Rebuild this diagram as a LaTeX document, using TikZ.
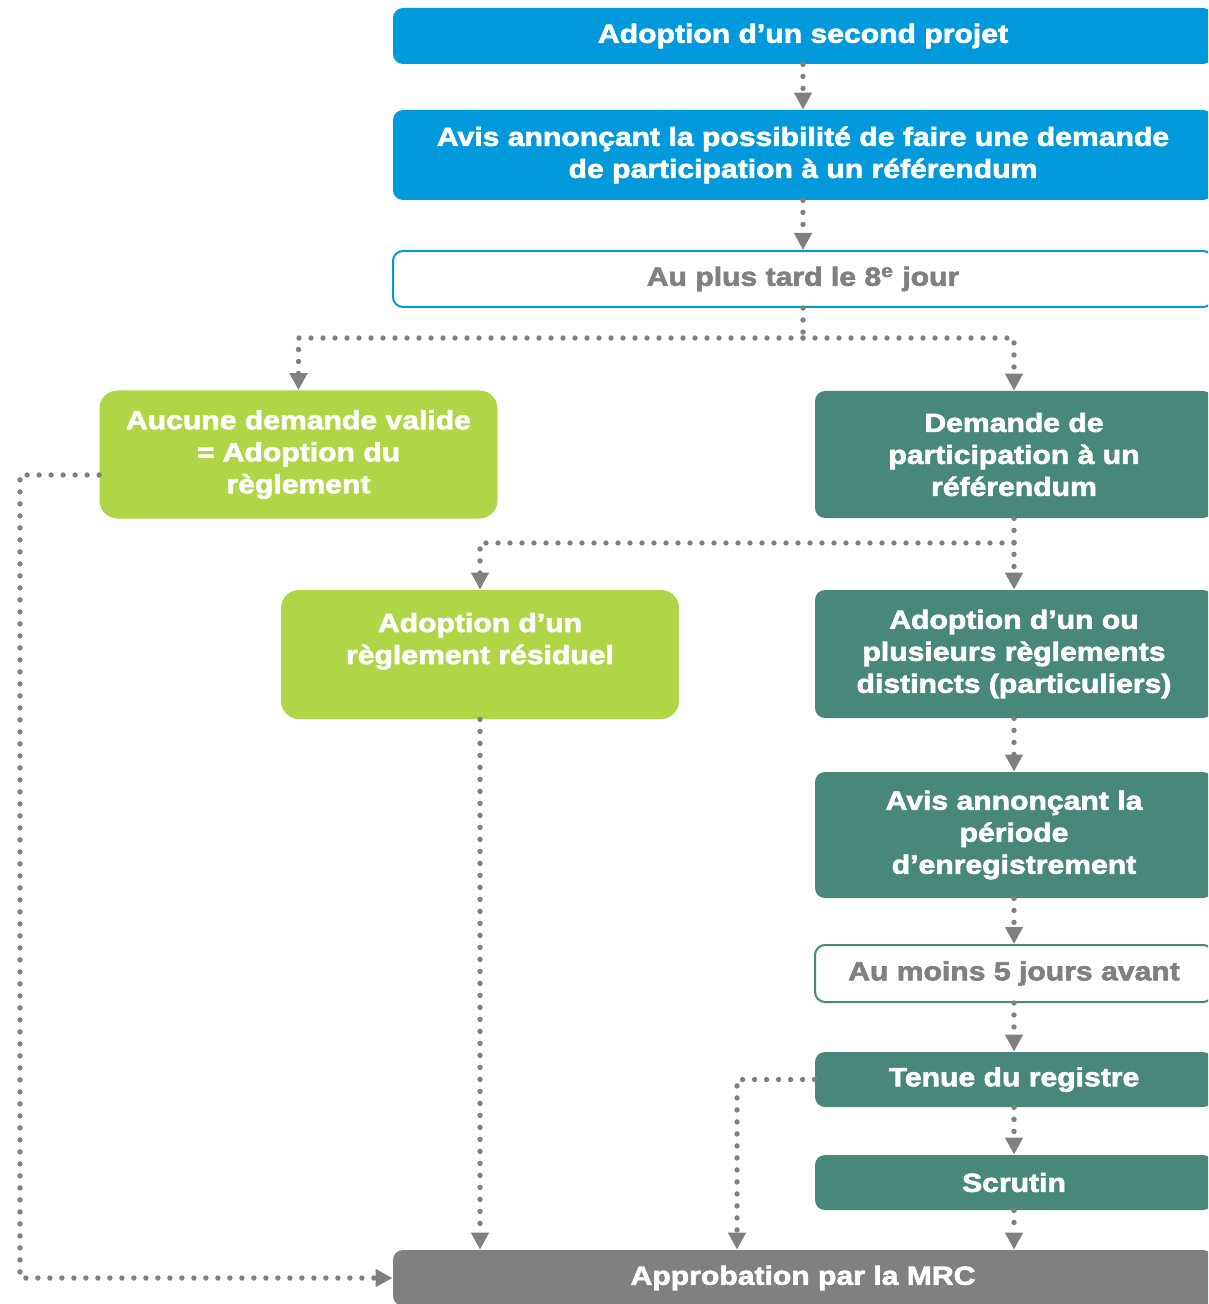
\documentclass[tikz,border=0pt]{standalone}
\usepackage{fontspec}
\setmainfont{Liberation Sans}[BoldFeatures={FakeBold=2.4,FakeStretch=1.15}]
\usepackage{xcolor}
\usetikzlibrary{arrows.meta,positioning,calc}
\definecolor{mrcBlue}{RGB}{0,153,219}
\definecolor{mrcGreen}{RGB}{176,214,72}
\definecolor{mrcTeal}{RGB}{72,136,122}
\definecolor{mrcGray}{RGB}{128,128,128}

\begin{document}
\begin{tikzpicture}[
  x=0.5pt,y=-0.5pt,
  box/.style={rounded corners=5pt,minimum width=410pt,minimum height=28pt,align=center,inner sep=0pt,
    font=\fontsize{13.1}{16}\selectfont\bfseries,text=white},
  bluebox/.style={box,fill=mrcBlue},
  delaybox/.style={box,fill=white,draw=#1,line width=1pt,text=mrcGray},
  greenbox/.style={box,fill=mrcGreen,rounded corners=9pt,minimum width=199pt,minimum height=64pt},
  tealbox/.style={box,fill=mrcTeal,minimum width=199pt},
  graybox/.style={box,fill=mrcGray},
  flow/.style={draw=mrcGray,line width=2.7pt,line cap=round,dash pattern=on 0pt off 6pt,
    -{Triangle[length=8.5pt,width=8.5pt]}},
  link/.style={draw=mrcGray,line width=2.7pt,line cap=round,dash pattern=on 0pt off 6pt}
]
\useasboundingbox (0,0) rectangle (1208,1304);
\clip (0,0) rectangle (1208,1304);

% colonne du haut
\node[bluebox] (second) at (803,36) {Adoption d’un second projet};
\node[bluebox,minimum height=45pt] (avis) at (803,155) {Avis annonçant la possibilité de faire une demande\\de participation à un référendum};
\node[delaybox=mrcBlue] (tard) at (803,279) {Au plus tard le 8\textsuperscript{e} jour};

% deux branches
\node[greenbox] (aucune) at (298.5,454.5) {Aucune demande valide\\= Adoption du\\règlement};
\node[tealbox,minimum height=63.5pt] (demande) at (1014,454.5) {Demande de\\participation à un\\référendum};
\node[greenbox,minimum height=64.5pt] (residuel) at (480,654.5) {Adoption d’un\\règlement résiduel\\~};
\node[tealbox,minimum height=64pt] (distincts) at (1014,654) {Adoption d’un ou\\plusieurs règlements\\distincts (particuliers)};
\node[tealbox,minimum height=63pt] (periode) at (1014,835) {Avis annonçant la\\période\\d’enregistrement};
\node[delaybox=mrcTeal,minimum width=199pt,minimum height=28.5pt] (cinq) at (1014,973.5) {Au moins 5 jours avant};
\node[tealbox,minimum height=27.5pt] (registre) at (1014,1079.5) {Tenue du registre};
\node[tealbox,minimum height=27.5pt] (scrutin) at (1014,1182.5) {Scrutin};
\node[graybox] (mrc) at (803,1278) {Approbation par la MRC};

\coordinate (split1) at (803,338);
\coordinate (split2) at (1014,543);
\coordinate (lcol) at (20,475);
\coordinate (rcol) at (737,1079.5);

\draw[flow] (second) -- (avis);
\draw[flow] (avis) -- (tard);
\draw[link] (tard.south) -- (split1);
\draw[flow] (split1) -| (aucune.north);
\draw[flow] (split1) -| (demande.north);
\draw[flow] (demande.south) -- (distincts.north);
\draw[flow] (split2) -| (residuel.north);
\draw[flow] (distincts) -- (periode);
\draw[flow] (periode) -- (cinq);
\draw[flow] (cinq) -- (registre);
\draw[flow] (registre) -- (scrutin);
\draw[flow] (scrutin.south) -- (scrutin.south |- mrc.north);
\draw[flow] (residuel.south) -- (residuel.south |- mrc.north);
\draw[flow] (registre.west) -- (rcol) -- (rcol |- mrc.north);
\draw[flow] (aucune.west |- lcol) -- (lcol) |- (mrc.west);
\end{tikzpicture}
\end{document}
